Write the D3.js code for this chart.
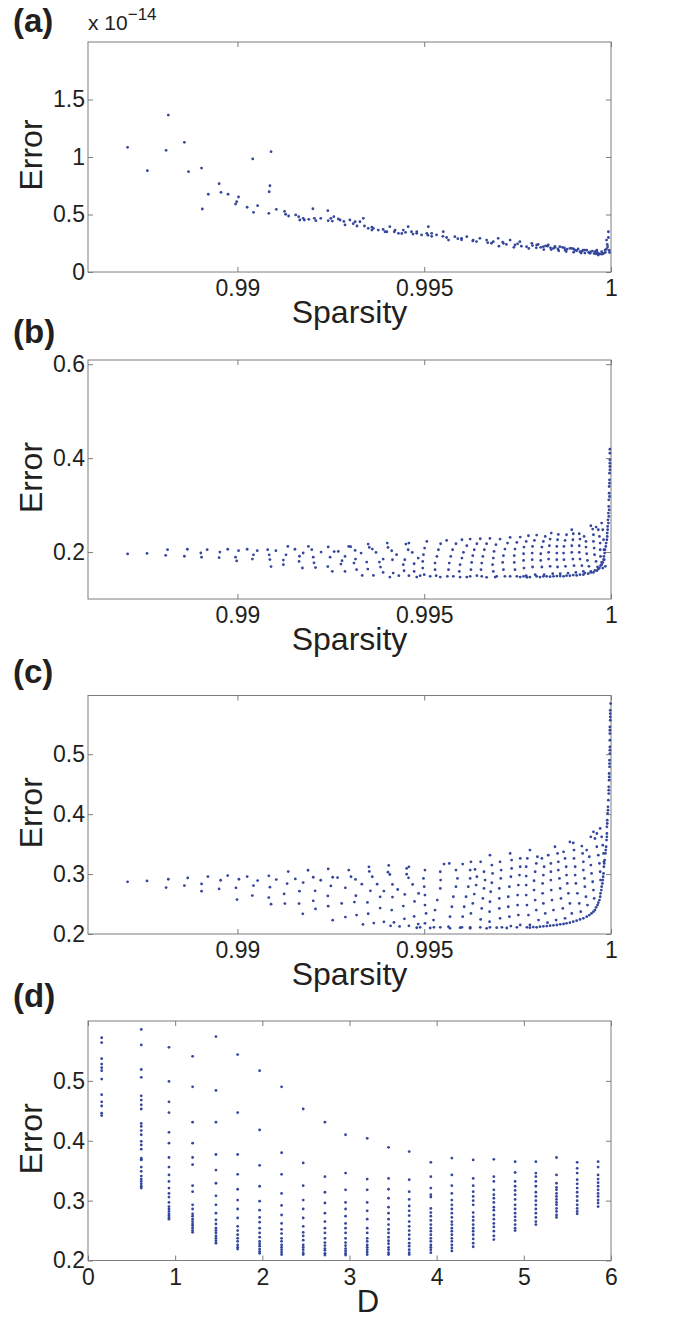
<!DOCTYPE html>
<html><head><meta charset="utf-8">
<script src="https://cdn.jsdelivr.net/npm/d3@7"></script>
<style>
body{margin:0;background:#fff}
svg text{font-family:"Liberation Sans",Arial,Helvetica,sans-serif}
</style>
</head><body>
<svg id="chart" width="675" height="1321"></svg>
<script>
// ---------- DATA ----------
// Panel (a): [sparsity, error in units of 1e-14]
const aPoints = [[0.98706,1.084],[0.98759,0.881],[0.98809,1.058],[0.98815,1.365],[0.98858,1.128],[0.98869,0.872],[0.98904,0.904],[0.98906,0.548],[0.98922,0.676],[0.98951,0.768],[0.98956,0.693],[0.98975,0.676],[0.98995,0.591],[0.98998,0.611],[0.99003,0.652],[0.99026,0.563],[0.99041,0.983],[0.99043,0.519],[0.99054,0.577],[0.99084,0.510],[0.99085,0.698],[0.99087,0.750],[0.9909,1.046],[0.99104,0.545],[0.99126,0.528],[0.99129,0.502],[0.99137,0.487],[0.99156,0.496],[0.99164,0.481],[0.99167,0.452],[0.99176,0.467],[0.99179,0.452],[0.99191,0.458],[0.99202,0.550],[0.99206,0.467],[0.9921,0.446],[0.99223,0.467],[0.99242,0.533],[0.99243,0.446],[0.9925,0.467],[0.99254,0.443],[0.99258,0.481],[0.9927,0.461],
[0.99275,0.452],[0.99288,0.409],[0.99301,0.452],[0.99315,0.437],[0.99328,0.437],[0.99337,0.467],[0.9935,0.38],[0.99364,0.38],[0.99377,0.365],[0.99395,0.35],[0.99408,0.394],[0.99422,0.365],[0.99431,0.336],[0.99444,0.365],[0.99457,0.394],[0.99466,0.35],[0.9948,0.336],[0.99493,0.322],[0.99511,0.394],[0.99507,0.336],[0.9952,0.336],[0.99533,0.322],[0.99551,0.35],[0.99565,0.278],[0.99582,0.307],[0.996,0.293],[0.99614,0.307],[0.99631,0.278],[0.99649,0.293],[0.99667,0.278],[0.99685,0.264],[0.99698,0.293],[0.99712,0.249],[0.9973,0.278],[0.99743,0.235],[0.99756,0.264],[0.99774,0.22],[0.99788,0.249],[0.99801,0.235],[0.99819,0.22],[0.99832,0.235],[0.99846,0.206],[0.99863,0.22],[0.99877,0.191],[0.9989,0.206],[0.99904,0.191],[0.99917,0.177],[0.9993,0.191],[0.99944,0.162],[0.99957,0.177],[0.99966,0.148],[0.99975,0.177],[0.99984,0.191],[0.99988,0.278],[0.99993,0.35],[0.99991,0.22],
[0.99805,0.24],[0.99812,0.215],[0.99825,0.228],[0.99838,0.21],[0.9985,0.222],[0.99858,0.2],[0.9987,0.215],[0.99882,0.198],[0.99895,0.205],[0.99908,0.185],[0.99912,0.2],[0.99922,0.18],[0.99935,0.19],[0.9994,0.17],[0.9995,0.182],[0.99955,0.16],[0.99962,0.172],[0.9997,0.158],[0.99978,0.165],[0.99985,0.17],[0.99988,0.2],[0.9999,0.24],[0.99993,0.3],[0.99995,0.19],[0.99996,0.17],[0.99962,0.19],[0.9992,0.165],[0.9988,0.178],[0.9984,0.195],[0.998,0.21],[0.9976,0.225],[0.9972,0.24],[0.9968,0.25],[0.9964,0.265],[0.996,0.28],[0.9956,0.3],[0.9952,0.31],[0.9948,0.35],[0.9944,0.335],[0.994,0.35],[0.9936,0.39],[0.9932,0.4],[0.99285,0.44],
[0.997,0.225],[0.9974,0.215],[0.9978,0.205],[0.9982,0.195],[0.9986,0.185],[0.999,0.172],[0.9993,0.165],[0.9996,0.158],[0.99975,0.155],[0.9998,0.16],[0.99965,0.165],[0.99945,0.175],[0.99925,0.19],[0.999,0.2],[0.99875,0.21],[0.9985,0.215],[0.9983,0.225],[0.9979,0.23],[0.9975,0.245],[0.9971,0.26],[0.9967,0.255],[0.9963,0.27],[0.9959,0.29],[0.9955,0.31],[0.9951,0.32],[0.9947,0.33],[0.9945,0.345],[0.9942,0.35],[0.9939,0.37],[0.9936,0.365],[0.9934,0.4],[0.9931,0.42]];

// Panel (b): [sparsity, error]
const bPoints = [[0.98706,0.196],[0.98758,0.197],[0.98808,0.193],[0.98813,0.205],[0.98858,0.191],[0.98866,0.206],[0.98904,0.189],[0.98902,0.198],[0.98919,0.205],[0.98951,0.188],[0.98953,0.200],[0.98974,0.206],[0.98995,0.189],[0.98998,0.181],[0.99003,0.203],[0.99026,0.206],[0.9904,0.185],[0.99043,0.194],[0.99053,0.203],[0.99081,0.205],[0.99085,0.194],[0.99087,0.184],[0.9909,0.169],[0.99103,0.203],[0.99123,0.173],[0.99123,0.183],[0.9913,0.194],[0.99135,0.212],[0.99154,0.206],[0.99165,0.180],[0.99166,0.191],[0.99174,0.166],[0.99176,0.198],[0.9919,0.212],[0.99199,0.205],[0.99205,0.177],[0.99203,0.189],[0.99209,0.167],[0.99224,0.200],[0.99243,0.211],[0.99248,0.189],[0.99242,0.169],[0.99254,0.159],[0.99259,0.201],
[0.9927,0.2014],[0.99277,0.1744],[0.9928,0.1815],[0.99288,0.1588],[0.99288,0.1907],[0.99298,0.212],[0.99303,0.2113],[0.99315,0.2035],[0.99312,0.1766],[0.99316,0.1851],[0.99319,0.1624],[0.99331,0.1978],[0.99334,0.1503],[0.99346,0.1787],[0.99349,0.1638],[0.9935,0.217],[0.99353,0.2099],[0.99361,0.2063],[0.99364,0.1503],[0.99371,0.1992],[0.9938,0.1787],[0.99383,0.168],[0.9939,0.1851],[0.9939,0.1567],[0.99401,0.2191],[0.99403,0.2099],[0.99408,0.1468],[0.99413,0.2028],[0.99415,0.1836],[0.99417,0.1553],[0.99426,0.1943],[0.99432,0.1496],[0.99444,0.173],[0.99446,0.1602],[0.99448,0.1836],[0.99451,0.217],[0.99459,0.2191],[0.99457,0.2049],[0.99459,0.1496],[0.99468,0.1992],[0.99473,0.1751],[0.99473,0.1588],[0.9948,0.1468],[0.99484,0.1872],
[0.99507,0.2227],[0.99501,0.2085],[0.99498,0.1943],[0.99496,0.1801],[0.99496,0.1659],[0.995,0.1518],
[0.9956,0.2248],[0.99544,0.2177],[0.99538,0.2049],[0.99534,0.1907],[0.99529,0.1766],[0.99529,0.1624],[0.99532,0.1496],
[0.99601,0.2262],[0.99585,0.2177],[0.99576,0.2049],[0.99571,0.1907],[0.99567,0.1766],[0.99565,0.1624],[0.99562,0.1482],
[0.99623,0.2276],[0.99614,0.2134],[0.99605,0.1993],[0.99601,0.1872],[0.99596,0.173],[0.99594,0.1588],[0.99596,0.1468],
[0.9965,0.2283],[0.99641,0.2177],[0.99634,0.2049],[0.9963,0.1922],[0.99627,0.178],[0.99625,0.1624],[0.99623,0.1482],
[0.99676,0.229],[0.99667,0.2177],[0.99661,0.2049],[0.99657,0.1907],[0.99654,0.1766],[0.99652,0.1624],[0.99654,0.1482],
[0.99703,0.2276],[0.99692,0.2156],[0.99687,0.2014],[0.99685,0.1872],[0.99683,0.173],[0.99685,0.1588],[0.9969,0.1468],
[0.9973,0.2312],[0.99723,0.2191],[0.99716,0.2063],[0.99712,0.1922],[0.9971,0.178],[0.99712,0.1624],[0.99716,0.1482],
[0.99757,0.2319],[0.99748,0.2205],[0.99743,0.2063],[0.99741,0.1922],[0.99741,0.178],[0.99743,0.1624],[0.99748,0.1482],
[0.99779,0.2347],[0.99773,0.2227],[0.99767,0.2106],[0.99766,0.1964],[0.99766,0.1822],[0.99767,0.1659],[0.99773,0.1496],
[0.99801,0.2361],[0.99795,0.2248],[0.9979,0.212],[0.99789,0.1978],[0.99789,0.1837],[0.9979,0.1681],[0.99797,0.1518],
[0.99824,0.2333],[0.99819,0.2227],[0.99815,0.2106],[0.99812,0.1964],[0.99812,0.1822],[0.99815,0.1681],[0.99821,0.1518],
[0.9984,0.2404],[0.99837,0.2276],[0.99835,0.2134],[0.99833,0.1993],[0.99833,0.1851],[0.99837,0.1695],[0.99844,0.1539],
[0.99859,0.2375],[0.99857,0.2262],[0.99855,0.212],[0.99855,0.1978],[0.99855,0.1837],[0.99857,0.1681],[0.99864,0.1539],
[0.99881,0.2368],[0.99877,0.2248],[0.99874,0.212],[0.99873,0.1978],[0.99874,0.1837],[0.99878,0.1695],[0.99885,0.1553],
[0.99895,0.2475],[0.99899,0.239],[0.99898,0.2262],[0.99895,0.2134],[0.99895,0.1993],[0.99898,0.1851],[0.99901,0.1709],[0.99906,0.1567],
[0.99915,0.239],[0.99917,0.2276],[0.99915,0.2134],[0.99915,0.1993],[0.99917,0.1851],[0.99922,0.1709],[0.99926,0.1588],
[0.99928,0.2333],[0.99933,0.2227],[0.99933,0.2106],[0.99935,0.1964],[0.99937,0.1822],[0.99941,0.1695],[0.99946,0.1588],
[0.99946,0.256],[0.99951,0.2489],[0.99953,0.2368],[0.99953,0.2227],[0.99955,0.2085],[0.99956,0.1943],[0.9996,0.1801],[0.99964,0.1681],
[0.9996,0.2531],[0.99966,0.2475],[0.99969,0.2333],[0.99971,0.2191],[0.99971,0.2049],[0.99972,0.1907],[0.99975,0.178],[0.99978,0.1659],
[0.99975,0.2616],[0.99978,0.2475],[0.9998,0.2262],[0.99981,0.2049],[0.99982,0.1837],[0.99985,0.1695],
[0.99489,0.1496],[0.99516,0.1482],[0.99543,0.1468],[0.99578,0.1482],[0.99614,0.1468],[0.99641,0.1496],[0.99667,0.1461],[0.99694,0.1482],[0.9973,0.1482],[0.99757,0.1468],[0.99766,0.1482],[0.99783,0.1468],[0.99801,0.1482],[0.99819,0.1482],[0.99837,0.1475],[0.99855,0.1489],[0.99873,0.1482],[0.9989,0.1496],[0.99908,0.1503],[0.99926,0.1518],[0.99939,0.1539],[0.99953,0.1567],[0.99962,0.1603],[0.99969,0.1659],[0.99975,0.173],[0.9998,0.1837],[0.99983,0.1978],[0.99986,0.212],[0.99989,0.2262],[0.9999,0.2404],[0.99991,0.2546],[0.99992,0.2687],[0.99993,0.2829],[0.99994,0.2971],[0.99994,0.3113],[0.99995,0.3254],[0.99995,0.3396],[0.99996,0.3538],[0.99996,0.368],[0.99997,0.3822],[0.99997,0.3964],[0.99997,0.4105],[0.99997,0.419],
[0.99775,0.1461],[0.9981,0.1468],[0.99828,0.1482],[0.99846,0.1482],[0.99864,0.1489],[0.99881,0.1496],[0.99899,0.151],[0.99917,0.1518],[0.9993,0.1553],[0.99946,0.1567],[0.99957,0.161],[0.99966,0.1638],[0.99972,0.1709],[0.99978,0.178],[0.99981,0.1907],[0.99984,0.2049],[0.99987,0.2191],[0.9999,0.2333],[0.99991,0.2475],[0.99993,0.2616],[0.99994,0.2758],[0.99995,0.29],[0.99996,0.3183],[0.99996,0.3467],[0.99997,0.3751],[0.99997,0.3893]];

// Panel (c): [sparsity, error]
const cPoints = [[0.98706,0.287],[0.98758,0.2886],[0.98815,0.2914],[0.98809,0.2775],[0.98867,0.2936],[0.98858,0.2808],[0.98921,0.2958],[0.98904,0.2836],[0.98904,0.2714],[0.98974,0.2975],[0.98955,0.2897],[0.98951,0.2753],[0.99026,0.2958],[0.99004,0.2914],[0.98996,0.277],[0.98999,0.2575],[0.99054,0.2892],[0.99043,0.2808],[0.9904,0.2642],[0.99084,0.297],[0.99104,0.2908],[0.99087,0.2781],[0.99084,0.2608],[0.9909,0.2497],[0.99136,0.3042],[0.99155,0.2919],[0.99133,0.2842],[0.99125,0.2669],[0.99127,0.2508],[0.99189,0.3064],[0.99203,0.2947],[0.99223,0.2897],[0.99176,0.2858],[0.99166,0.2714],[0.99165,0.2508],[0.99175,0.2336],[0.99208,0.272],[0.99203,0.2553],[0.99209,0.2419],[0.99243,0.3086],[0.99255,0.2947],[0.9925,0.2803],[0.99242,0.2636],[0.99243,0.2464],[0.99255,0.223],[0.99268,0.2942],
[0.99279,0.251],[0.99289,0.2771],[0.99298,0.3066],[0.99304,0.2955],[0.99316,0.291],[0.99313,0.2532],[0.99319,0.2315],[0.99289,0.2282],[0.99317,0.2638],[0.99333,0.2832],[0.99336,0.216],[0.99348,0.2527],[0.9935,0.2338],[0.99352,0.3121],[0.99353,0.3044],[0.99361,0.2955],[0.99356,0.2721],[0.99365,0.2182],[0.99374,0.2832],[0.99382,0.2621],[0.99382,0.2432],[0.99392,0.2716],[0.99392,0.2204],[0.99405,0.3144],[0.99403,0.3032],[0.99408,0.2993],[0.99415,0.2827],[0.99415,0.2616],[0.99413,0.2399],[0.9941,0.2137],[0.99419,0.2193],[0.99429,0.2743],[0.99434,0.2126],[0.99444,0.2466],[0.99448,0.266],[0.99447,0.2254],[0.99453,0.3094],[0.99459,0.3121],[0.99453,0.2999],[0.99458,0.2938],[0.99469,0.2827],[0.99459,0.2137],[0.99474,0.2543],[0.99473,0.2293],[0.9948,0.2104],[0.99485,0.2677],[0.99484,0.2165],
[0.99502,0.3067],[0.99498,0.2927],[0.995,0.2789],[0.99502,0.265],[0.99502,0.2483],[0.99505,0.2344],[0.99502,0.2178],
[0.99553,0.3167],[0.99543,0.3039],[0.99544,0.29],[0.99543,0.2761],[0.99535,0.2566],[0.99529,0.24],[0.99525,0.2233],[0.99526,0.2111],
[0.99567,0.3178],[0.99585,0.3067],[0.99589,0.2927],[0.99585,0.2789],[0.99578,0.2622],[0.99574,0.2455],[0.99569,0.2289],[0.99565,0.2122],
[0.99603,0.3167],[0.99623,0.3067],[0.99623,0.2927],[0.99618,0.2789],[0.99612,0.2622],[0.99607,0.2455],[0.99603,0.2289],[0.99601,0.2111],
[0.99625,0.3205],[0.99636,0.3078],[0.99641,0.2955],[0.99639,0.2816],[0.99634,0.2667],[0.9963,0.2511],[0.99625,0.2344],[0.99623,0.2111],
[0.99651,0.3205],[0.9966,0.3039],[0.99663,0.29],[0.9966,0.2761],[0.99657,0.2594],[0.99654,0.2427],[0.99651,0.2244],[0.9965,0.2111],
[0.99676,0.3316],[0.99681,0.315],[0.99683,0.3011],[0.99681,0.2855],[0.99678,0.2705],[0.99676,0.2538],[0.99675,0.2372],[0.99675,0.2205],[0.99676,0.2111],
[0.99703,0.3205],[0.99706,0.3067],[0.99705,0.2927],[0.99701,0.2761],[0.99701,0.2594],[0.99701,0.2427],[0.99703,0.2261],[0.99708,0.2111],
[0.9973,0.3344],[0.99734,0.3233],[0.99734,0.3094],[0.99732,0.2955],[0.99728,0.2789],[0.99725,0.2622],[0.99725,0.2455],[0.99728,0.2289],[0.99732,0.2133],
[0.99757,0.3261],[0.99757,0.3122],[0.99755,0.2983],[0.99752,0.2816],[0.9975,0.265],[0.9975,0.2483],[0.99752,0.2316],[0.99757,0.215],
[0.99783,0.34],[0.99776,0.3261],[0.99773,0.3122],[0.99773,0.2966],[0.99773,0.2816],[0.99773,0.265],[0.99775,0.2483],[0.99779,0.2316],[0.99783,0.215],
[0.99803,0.3289],[0.998,0.3178],[0.99797,0.3039],[0.99794,0.2889],[0.99794,0.2733],[0.99797,0.2566],[0.998,0.24],[0.99806,0.2233],
[0.99815,0.3261],[0.99821,0.3122],[0.99819,0.2983],[0.99817,0.2844],[0.99817,0.2678],[0.99819,0.2511],[0.99824,0.2344],[0.9983,0.2189],
[0.99832,0.3316],[0.99839,0.3178],[0.99839,0.3039],[0.99839,0.29],[0.9984,0.2733],[0.99842,0.2566],[0.99846,0.24],[0.99853,0.2233],
[0.9985,0.3456],[0.99857,0.3344],[0.99859,0.3205],[0.99859,0.3067],[0.99862,0.2927],[0.99864,0.2761],[0.99866,0.2594],[0.99871,0.2427],[0.99877,0.2261],
[0.99873,0.3372],[0.99877,0.3261],[0.9988,0.3122],[0.99881,0.2983],[0.99883,0.2844],[0.99886,0.2678],[0.9989,0.2511],[0.99895,0.2344],
[0.9989,0.3537],[0.99899,0.352],[0.99901,0.34],[0.99901,0.3261],[0.99904,0.3122],[0.99904,0.2983],[0.99906,0.2844],[0.9991,0.2678],[0.99915,0.2511],[0.99919,0.2372],
[0.99922,0.3467],[0.99924,0.3344],[0.99926,0.3205],[0.99926,0.3067],[0.99929,0.2927],[0.9993,0.2789],[0.99933,0.2622],[0.99937,0.2483],
[0.99935,0.34],[0.99942,0.3289],[0.99946,0.315],[0.99948,0.3011],[0.99951,0.2872],[0.99953,0.2733],[0.99955,0.2594],
[0.99946,0.3622],[0.99953,0.3705],[0.99957,0.3594],[0.99962,0.3456],[0.99966,0.3316],[0.99969,0.3178],[0.99971,0.3039],[0.99972,0.29],
[0.99962,0.3677],[0.99971,0.3761],[0.99975,0.3622],[0.99978,0.3483],[0.9998,0.3344],[0.99981,0.3205],
[0.99489,0.2111],[0.99516,0.21],[0.99543,0.2111],[0.99569,0.2094],[0.99596,0.2105],[0.99623,0.2094],[0.99667,0.2094],[0.99694,0.2105],[0.99721,0.21],[0.99748,0.2111],[0.99775,0.2111],[0.99792,0.2116],[0.9981,0.2122],[0.99828,0.2133],[0.99846,0.2144],[0.99864,0.2161],[0.99881,0.2178],[0.99899,0.2205],[0.99917,0.2244],[0.99935,0.2289],[0.99948,0.2344],[0.99957,0.24],[0.99964,0.2483],[0.99969,0.2566],[0.99972,0.2678],[0.99975,0.2789],[0.99978,0.29],[0.9998,0.3011],[0.99981,0.3122],[0.99983,0.3233],[0.99985,0.3344],[0.99987,0.3456],[0.99988,0.3567],[0.99989,0.3677],[0.99989,0.3789],[0.9999,0.39],[0.99991,0.4011],[0.99992,0.4122],[0.99993,0.4233],[0.99994,0.4344],[0.99994,0.4456],[0.99995,0.4567],[0.99995,0.4678],[0.99996,0.4789],[0.99996,0.49],[0.99997,0.5011],[0.99997,0.5122],[0.99997,0.5233],[0.99997,0.5344],[0.99997,0.5456],[0.99998,0.5567],[0.99998,0.5678],[0.99999,0.5845],
[0.99783,0.2105],[0.99801,0.2111],[0.99819,0.2128],[0.99837,0.2139],[0.99855,0.215],[0.99873,0.2167],[0.9989,0.2189],[0.99908,0.2222],[0.99926,0.2261],[0.99942,0.2316],[0.99953,0.2372],[0.9996,0.2444],[0.99966,0.2522],[0.99971,0.2622],[0.99974,0.2733],[0.99977,0.2844],[0.99979,0.2955],[0.99982,0.3178],[0.99986,0.34],[0.99989,0.3622],[0.9999,0.3844],[0.99992,0.4067],[0.99994,0.44],[0.99995,0.4622],[0.99996,0.4844],[0.99997,0.5067],[0.99997,0.54],[0.99998,0.5622],[0.99998,0.5733]];

// Panel (d): D value of each column, and the errors in that column
const dValues = [0.157,0.611,0.929,1.20,1.468,1.717,1.969,2.221,2.469,2.718,2.955,3.203,3.448,3.685,3.933,4.174,4.419,4.656,4.900,5.138,5.375,5.612,5.852];
const dErrors = [
[0.572,0.564,0.537,0.528,0.522,0.517,0.503,0.477,0.465,0.458,0.446,0.442],
[0.586,0.560,0.519,0.506,0.475,0.468,0.460,0.453,0.429,0.424,0.417,0.410,0.399,0.393,0.386,0.371,0.369,0.368,0.356,0.349,0.341,0.336,0.332,0.328,0.324,0.321],
[0.556,0.499,0.465,0.447,0.414,0.396,0.372,0.356,0.343,0.332,0.321,0.312,0.306,0.297,0.290,0.286,0.282,0.278,0.275,0.272,0.269],
[0.541,0.490,0.431,0.396,0.372,0.360,0.325,0.315,0.293,0.286,0.278,0.274,0.269,0.265,0.261,0.258,0.254,0.250,0.247],
[0.574,0.484,0.431,0.377,0.351,0.329,0.308,0.293,0.279,0.268,0.261,0.254,0.250,0.246,0.241,0.237,0.233,0.229],
[0.544,0.447,0.377,0.344,0.319,0.301,0.286,0.271,0.257,0.250,0.243,0.237,0.232,0.226,0.222,0.219],
[0.517,0.418,0.359,0.324,0.299,0.284,0.272,0.264,0.254,0.246,0.239,0.232,0.228,0.224,0.219,0.215,0.212],
[0.490,0.380,0.344,0.312,0.292,0.276,0.262,0.252,0.245,0.237,0.232,0.226,0.222,0.218,0.214,0.210],
[0.453,0.363,0.325,0.301,0.286,0.271,0.257,0.247,0.241,0.234,0.226,0.222,0.218,0.213,0.210],
[0.431,0.340,0.314,0.296,0.279,0.265,0.254,0.246,0.237,0.230,0.225,0.220,0.217,0.212,0.209],
[0.410,0.346,0.318,0.297,0.286,0.274,0.262,0.254,0.246,0.237,0.230,0.225,0.220,0.216,0.212,0.209],
[0.404,0.336,0.318,0.297,0.283,0.269,0.254,0.246,0.237,0.232,0.226,0.222,0.218,0.214,0.210],
[0.389,0.337,0.319,0.304,0.289,0.279,0.269,0.260,0.252,0.246,0.239,0.233,0.228,0.222,0.218,0.213,0.210],
[0.382,0.335,0.315,0.302,0.291,0.283,0.275,0.265,0.257,0.250,0.243,0.236,0.229,0.224,0.218,0.213,0.210],
[0.364,0.340,0.321,0.310,0.306,0.287,0.280,0.274,0.267,0.260,0.254,0.249,0.243,0.237,0.232,0.226,0.222,0.218,0.213],
[0.371,0.343,0.325,0.312,0.301,0.293,0.286,0.279,0.272,0.265,0.260,0.254,0.249,0.243,0.237,0.232,0.226,0.221,0.216],
[0.368,0.337,0.325,0.315,0.307,0.300,0.293,0.280,0.273,0.267,0.260,0.254,0.249,0.243,0.236,0.229,0.223],
[0.369,0.340,0.332,0.318,0.310,0.304,0.297,0.289,0.284,0.276,0.269,0.262,0.256,0.249,0.241,0.235],
[0.365,0.347,0.332,0.324,0.317,0.310,0.302,0.293,0.286,0.279,0.273,0.267,0.260,0.254,0.250],
[0.365,0.346,0.340,0.332,0.324,0.314,0.307,0.300,0.293,0.286,0.279,0.272,0.265,0.260],
[0.372,0.343,0.329,0.322,0.318,0.312,0.307,0.302,0.297,0.293,0.287,0.282,0.276,0.272],
[0.364,0.354,0.346,0.335,0.328,0.321,0.314,0.307,0.300,0.293,0.287,0.282,0.278],
[0.365,0.356,0.343,0.336,0.330,0.324,0.318,0.312,0.307,0.301,0.296,0.290]];

// Tick values
const sparsityTicks = [0.99, 0.995, 1];
const aYTicks = [0, 0.5, 1, 1.5];
const bYTicks = [0.2, 0.4, 0.6];
const cYTicks = [0.2, 0.3, 0.4, 0.5];
const dYTicks = [0.2, 0.3, 0.4, 0.5];
const dXTicks = [0, 1, 2, 3, 4, 5, 6];

// ---------- DRAW ----------
const svg = d3.select('#chart');
const LEFT = 88, RIGHT = 611;
const DOT = '#34479c', INK = '#231f20', BOX = '#7d7d7d';
const dPoints = [];
dValues.forEach((dv, i) => dErrors[i].forEach(e => dPoints.push([dv, e])));

const panels = [
  {label:'(a)', ly:32,  top:42,  bottom:272,  xd:[0.986,1], yd:[0,2],      xt:sparsityTicks, yt:aYTicks, pts:aPoints, xl:'Sparsity', xlx:349.5, xls:32},
  {label:'(b)', ly:343, top:360, bottom:599,  xd:[0.986,1], yd:[0.1,0.609], xt:sparsityTicks, yt:bYTicks, pts:bPoints, xl:'Sparsity', xlx:349.5, xls:32},
  {label:'(c)', ly:683, top:695.5, bottom:934, xd:[0.986,1], yd:[0.2,0.598], xt:sparsityTicks, yt:cYTicks, pts:cPoints, xl:'Sparsity', xlx:349.5, xls:32},
  {label:'(d)', ly:1007, top:1021, bottom:1260.5, xd:[0,6], yd:[0.2,0.6], xt:dXTicks, yt:dYTicks, pts:dPoints, xl:'D', xlx:368, xls:31}
];

panels.forEach(p => {
  const x = d3.scaleLinear().domain(p.xd).range([LEFT, RIGHT]);
  const y = d3.scaleLinear().domain(p.yd).range([p.bottom, p.top]);
  const g = svg.append('g');

  const styleAxis = (sel, labels) => {
    sel.select('.domain').remove();
    sel.selectAll('.tick line').attr('stroke', BOX);
    sel.attr('font-family', '"Liberation Sans",Arial,sans-serif').attr('font-size', 23);
    sel.selectAll('.tick text').attr('fill', INK);
    if (!labels) sel.selectAll('.tick text').remove();
  };

  g.append('g').attr('transform', `translate(0,${p.bottom})`)
    .call(d3.axisBottom(x).tickValues(p.xt).tickSizeInner(-5).tickSizeOuter(0).tickPadding(8).tickFormat(d => String(d)))
    .call(s => styleAxis(s, true));
  g.append('g').attr('transform', `translate(0,${p.top})`)
    .call(d3.axisTop(x).tickValues(p.xt).tickSizeInner(-5).tickSizeOuter(0))
    .call(s => styleAxis(s, false));
  g.append('g').attr('transform', `translate(${LEFT},0)`)
    .call(d3.axisLeft(y).tickValues(p.yt).tickSizeInner(-5).tickSizeOuter(0).tickPadding(3).tickFormat(d => String(d)))
    .call(s => styleAxis(s, true));
  g.append('g').attr('transform', `translate(${RIGHT},0)`)
    .call(d3.axisRight(y).tickValues(p.yt).tickSizeInner(-5).tickSizeOuter(0))
    .call(s => styleAxis(s, false));

  g.append('rect').attr('x', LEFT).attr('y', p.top)
    .attr('width', RIGHT - LEFT).attr('height', p.bottom - p.top)
    .attr('fill', 'none').attr('stroke', BOX).attr('stroke-width', 1);

  g.append('g').selectAll('circle').data(p.pts).join('circle')
    .attr('cx', d => x(d[0])).attr('cy', d => y(d[1]))
    .attr('r', 1.4).attr('fill', DOT);

  g.append('text').attr('x', 13).attr('y', p.ly)
    .attr('font-size', 33).attr('font-weight', 'bold').attr('fill', INK).text(p.label);

  g.append('text').attr('transform', `translate(42,${(p.top + p.bottom) / 2 - 2}) rotate(-90)`)
    .attr('text-anchor', 'middle').attr('font-size', 32).attr('fill', INK).text('Error');

  g.append('text').attr('x', p.xlx).attr('y', p.bottom + 51)
    .attr('text-anchor', 'middle').attr('font-size', p.xls).attr('fill', INK).text(p.xl);
});

// exponent label of panel (a)
const expo = svg.append('text').attr('x', 88).attr('y', 30).attr('fill', INK).attr('font-size', 21);
expo.append('tspan').text('x 10');
expo.append('tspan').attr('font-size', 17).attr('dy', -10).text('\u221214');
</script>
</body></html>
